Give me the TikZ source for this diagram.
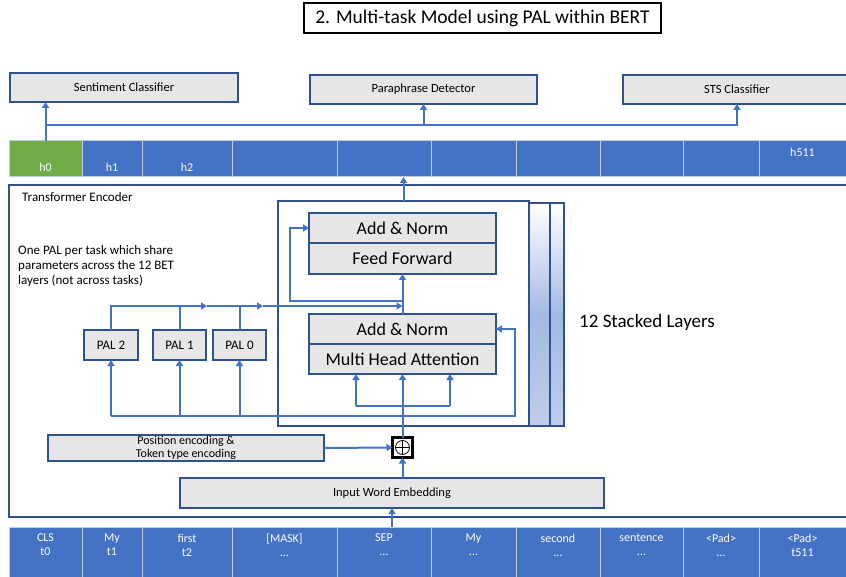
\documentclass[tikz,border=0pt]{standalone}
\usepackage{fontspec}
\setmainfont{Carlito}
\usetikzlibrary{positioning, arrows.meta}
\definecolor{tblue}{RGB}{68,114,196}
\definecolor{tgreen}{RGB}{112,173,71}
\definecolor{bordblue}{RGB}{47,82,143}
\definecolor{boxgray}{RGB}{231,230,230}
\definecolor{stackblue}{RGB}{163,185,226}

\begin{document}
\begin{tikzpicture}[x=1pt, y=-1pt,
  box/.style={draw=bordblue, line width=2pt, fill=boxgray, inner sep=0pt, outer sep=0pt, align=center, font=\fontsize{12.5}{13}\selectfont},
  bigbox/.style={box, minimum width=187, minimum height=30, font=\fontsize{18}{20}\selectfont},
  palbox/.style={box, minimum width=53, minimum height=30, font=\fontsize{13}{15}\selectfont},
  stackbox/.style={draw=bordblue, line width=1.5pt, top color=white, bottom color=stackblue!70!white, middle color=stackblue, minimum width=250, minimum height=223},
  cell/.style={draw=white!65!tblue, line width=1pt, inner sep=0pt, outer sep=0pt},
  celltext/.style={text=white, inner sep=0pt, align=center, font=\fontsize{12}{14}\selectfont},
  txt/.style={inner sep=0pt, align=left, font=\fontsize{13}{15}\selectfont},
  wire/.style={draw=tblue, line width=2pt},
  wirearr/.style={wire, -{Triangle[length=6pt,width=7pt]}}]

 \useasboundingbox (0,0) rectangle (846,577);
 \clip (0,0) rectangle (846,577);

 % title
 \node[draw=black, line width=1.6pt, fill=white, minimum width=357, minimum height=30, font=\fontsize{19.5}{22}\selectfont] (title) at (482.5,18) {2. Multi-task Model using PAL within BERT};

 % task heads
 \node[box, minimum width=228, minimum height=29] (sent) at (124,87.5) {Sentiment Classifier};
 \node[box, minimum width=227, minimum height=29] (para) at (423.5,89.5) {Paraphrase Detector};
 \node[box, minimum width=228, minimum height=29] (sts) at (737,89.5) {STS Classifier};

 % hidden states
 \foreach \a/\b/\col/\lab/\ly [count=\i from 0] in {9/82/tgreen/h0/167, 82/142/tblue/h1/167, 142/232/tblue/h2/167, 232/337/tblue/{}/159, 337/431/tblue/{}/159, 431/516/tblue/{}/159, 516/600/tblue/{}/159, 600/683/tblue/{}/159, 683/759/tblue/{}/159, 759/846/tblue/h511/152} {
   \node[cell, fill=\col, minimum width=\b-\a, minimum height=36] (h\i) at ({(\a+\b)/2},159) {};
   \node[celltext] at ({(\a+\b)/2},\ly) {\lab};
 }

 % encoder frame
 \node[draw=bordblue, line width=2pt, inner sep=0pt, outer sep=0pt, minimum width=851, minimum height=332] (enc) at (434.5,351) {};
 \node[txt, anchor=west] (enclab) at (22,197) {Transformer Encoder};

 % stacked layers
 \node[stackbox] (stack2) at (439,314.5) {};
 \node[stackbox] (stack1) at (425,314.5) {};
 \node[draw=bordblue, line width=2pt, fill=white, inner sep=0pt, outer sep=0pt, minimum width=251, minimum height=225] (layer) at (403.5,313.5) {};
 \node[bigbox] (an2) at (402.5,228) {Add \& Norm};
 \node[bigbox, minimum height=31, below=0pt of an2] (ff) {Feed Forward};
 \node[bigbox] (an1) at (402.5,329) {Add \& Norm};
 \node[bigbox, below=0pt of an1] (mha) {Multi Head Attention};
 \node[txt, anchor=west, font=\fontsize{19}{22}\selectfont] (stlab) at (579,322) {12 Stacked Layers};

 % PALs
 \node[txt, anchor=west] (note) at (18,266) {One PAL per task which share\\parameters across the 12 BET\\layers (not across tasks)};
 \node[palbox, minimum width=54] (pal2) at (111,345) {PAL 2};
 \node[palbox] (pal1) at (179.5,345) {PAL 1};
 \node[palbox] (pal0) at (239.5,345) {PAL 0};

 % embeddings
 \node[box, minimum width=276, minimum height=26, font=\fontsize{12}{13}\selectfont] (pos) at (186,448) {Position encoding \&\\Token type encoding};
 \node[draw=black, line width=2.8pt, fill=white, inner sep=0pt, outer sep=0pt, minimum size=20] (plus) at (402.5,447.5) {};
 \draw[line width=0.8pt] (plus.center) circle (7pt) (plus.center) ++(-7,0) -- ++(14,0) (plus.center) ++(0,-7) -- ++(0,14);
 \node[box, minimum width=424, minimum height=30] (emb) at (392,493) {Input Word Embedding};

 % input tokens
 \foreach \a/\b/\up/\dn [count=\i from 0] in {9/82/CLS/t0, 82/142/My/t1, 142/232/first/t2, 232/337/[MASK]/\ldots, 337/431/SEP/\ldots, 431/516/My/\ldots, 516/600/second/\ldots, 600/683/sentence/\ldots, 683/759/<Pad>/\ldots, 759/846/<Pad>/t511} {
   \node[cell, fill=tblue, minimum width=\b-\a, minimum height=56] (t\i) at ({(\a+\b)/2},555) {};
   \node[celltext] at ({(\a+\b)/2},545) {\up\\{\dn}};
 }

 % connectors
 \coordinate (split) at (45.5,125);
 \coordinate (res1) at (515,416);
 \coordinate (res2) at (290,301);
 \coordinate (mrg) at (402.5,306);
 \coordinate (m1) at (207,306);
 \coordinate (m2) at (263,306);
 \coordinate (qin) at (356,406);
 \coordinate (vin) at (450,406);

 \draw[wirearr] (h0.north) -- (h0.north |- sent.south);
 \draw[wirearr] (split) -| (para.south);
 \draw[wirearr] (split) -| (sts.south);
 \draw[wirearr] (layer.north) -- (layer.north |- h4.south);

 \draw[wirearr] (plus.north) -- (mha.south);
 \draw[wire] (qin) -- (vin);
 \draw[wirearr] (qin) -- (qin |- mha.south);
 \draw[wirearr] (vin) -- (vin |- mha.south);
 \draw[wirearr] (pal2.south |- res1) -- (res1) |- (an1.east);
 \foreach \p in {pal2, pal1, pal0}
   \draw[wirearr] (\p.south |- res1) -- (\p.south);
 \draw[wirearr] (an1.north) -- (ff.south);
 \draw[wirearr] (an1.north |- res2) -- (res2) |- (an2.west);
 \draw[wirearr] (pal2.north) |- (m1);
 \draw[wirearr] (m1) -- (m2);
 \draw[wirearr] (m2) -- (mrg);
 \draw[wire] (pal1.north) -- (pal1.north |- mrg);
 \draw[wire] (pal0.north) -- (pal0.north |- mrg);

 \draw[wirearr] (pos.east) -- (plus.west);
 \draw[wirearr] (plus.south |- emb.north) -- (plus.south);
 \draw[wirearr] (emb.south |- t4.north) -- (emb.south);
\end{tikzpicture}
\end{document}
